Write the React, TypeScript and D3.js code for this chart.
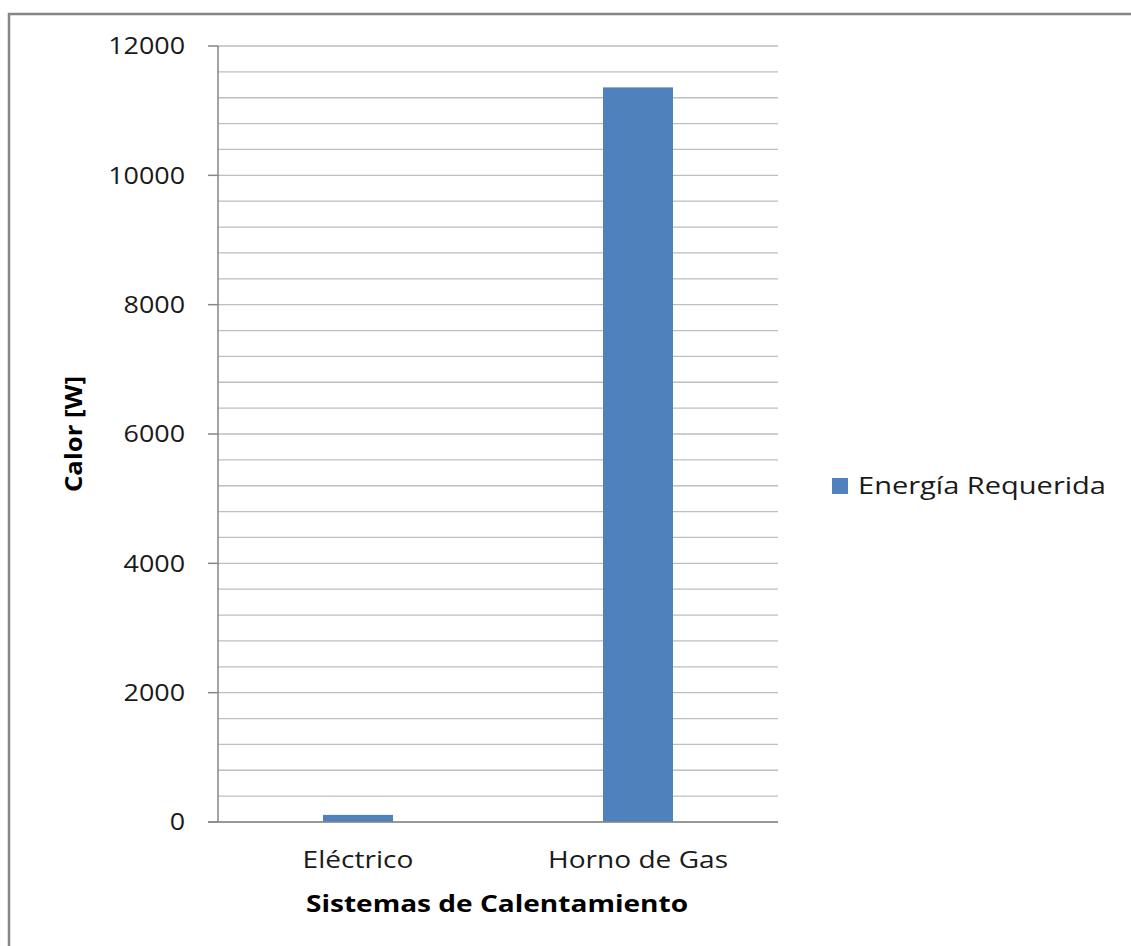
import React from "react";
import * as d3 from "d3";

const categories = ["Eléctrico", "Horno de Gas"];
const values = [110, 11360];
const seriesName = "Energía Requerida";
const yTicks = [0, 2000, 4000, 6000, 8000, 10000, 12000];

const WIDTH = 1131;
const HEIGHT = 946;
const PLOT = { left: 218, right: 778, top: 46, bottom: 822 };
const FONT = "'Open Sans', 'Noto Sans', sans-serif";
const BAR_COLOR = "#4F81BD";

// stretch text horizontally around an anchor x
const stretch = (x: number, sx: number) => `translate(${x},0) scale(${sx},1) translate(${-x},0)`;

export default function App() {
  const xScale = d3
    .scaleBand()
    .domain(categories)
    .range([PLOT.left, PLOT.right])
    .paddingInner(0.75)
    .paddingOuter(0.375);

  const yScale = d3.scaleLinear().domain([0, 12000]).range([PLOT.bottom, PLOT.top]);

  // minor gridlines every 400
  const gridValues = d3.range(0, 12001, 400);

  return (
    <svg
      width={WIDTH}
      height={HEIGHT}
      style={{ position: "absolute", left: 0, top: 0, background: "#fff" }}
    >
      {/* chart frame */}
      <rect x={9} y={14} width={WIDTH + 20} height={HEIGHT + 20} fill="#fff" stroke="#868686" strokeWidth={2.5} />

      {/* gridlines */}
      {gridValues.map((v) => (
        <line
          key={v}
          x1={PLOT.left}
          x2={PLOT.right}
          y1={yScale(v)}
          y2={yScale(v)}
          stroke="#BEBEBE"
          strokeWidth={1.3}
        />
      ))}

      {/* bars */}
      {categories.map((c, i) => (
        <rect
          key={c}
          x={xScale(c)}
          y={yScale(values[i])}
          width={xScale.bandwidth()}
          height={yScale(0) - yScale(values[i])}
          fill={BAR_COLOR}
        />
      ))}

      {/* y axis */}
      <line x1={PLOT.left} x2={PLOT.left} y1={PLOT.top} y2={PLOT.bottom} stroke="#868686" strokeWidth={1.5} />
      {yTicks.map((t) => (
        <g key={t}>
          <line x1={PLOT.left - 10} x2={PLOT.left} y1={yScale(t)} y2={yScale(t)} stroke="#868686" strokeWidth={1.5} />
          <text
            x={PLOT.left - 33}
            y={yScale(t)}
            dy="0.35em"
            textAnchor="end"
            fontFamily={FONT}
            fontSize={24}
            fill="#1a1a1a"
            transform={stretch(PLOT.left - 33, 1.12)}
          >
            {t}
          </text>
        </g>
      ))}

      {/* x axis */}
      <line x1={PLOT.left - 10} x2={PLOT.right} y1={PLOT.bottom} y2={PLOT.bottom} stroke="#868686" strokeWidth={1.5} />
      {categories.map((c) => {
        const cx = (xScale(c) ?? 0) + xScale.bandwidth() / 2;
        return (
          <text
            key={c}
            x={cx}
            y={868}
            textAnchor="middle"
            fontFamily={FONT}
            fontSize={24}
            fill="#1a1a1a"
            transform={stretch(cx, 1.17)}
          >
            {c}
          </text>
        );
      })}

      {/* axis titles */}
      <text
        x={497}
        y={912}
        textAnchor="middle"
        fontFamily={FONT}
        fontSize={23}
        fontWeight="bold"
        fill="#000"
        transform={stretch(497, 1.22)}
      >
        Sistemas de Calentamiento
      </text>
      <text
        transform="translate(82,434) rotate(-90) scale(1.12,1)"
        textAnchor="middle"
        fontFamily={FONT}
        fontSize={23}
        fontWeight="bold"
        fill="#000"
      >
        Calor [W]
      </text>

      {/* legend */}
      <rect x={832} y={478} width={16} height={16} fill={BAR_COLOR} />
      <text
        x={858}
        y={486}
        dy="0.35em"
        fontFamily={FONT}
        fontSize={24}
        fill="#1a1a1a"
        transform={stretch(858, 1.21)}
      >
        {seriesName}
      </text>
    </svg>
  );
}
